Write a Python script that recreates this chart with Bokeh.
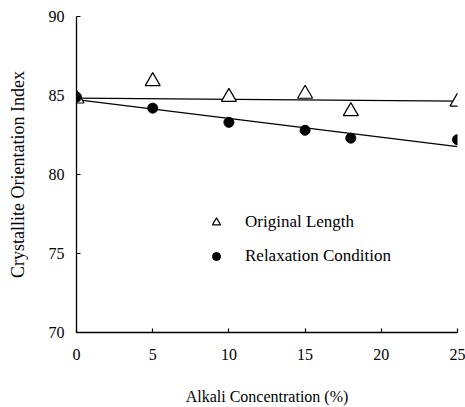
from bokeh.plotting import figure
from bokeh.models import Range1d, Legend, LegendItem, FixedTicker
from bokeh.embed import file_html
from bokeh.resources import INLINE

# Data
alkali = [0, 5, 10, 15, 18, 25]
original_length = [84.8, 85.9, 84.9, 85.1, 84.0, 84.6]
relaxation = [84.9, 84.2, 83.3, 82.8, 82.3, 82.2]

trend_x = [0, 25]
trend_original = [84.84, 84.64]
trend_relax = [84.74, 81.77]

x_ticks = [0, 5, 10, 15, 20, 25]
y_ticks = [70, 75, 80, 85, 90]

FONT = "Liberation Serif"

p = figure(width=465, height=407, output_backend="svg", toolbar_location=None,
           x_range=Range1d(0, 25), y_range=Range1d(70, 90),
           min_border_left=76, min_border_right=8, min_border_top=16, min_border_bottom=71)
p.outline_line_color = None
p.grid.visible = False
p.background_fill_color = "white"
p.border_fill_color = "white"

p.line(trend_x, trend_original, line_color="black", line_width=1.3)
p.line(trend_x, trend_relax, line_color="black", line_width=1.3)

r1 = p.scatter(alkali, original_length, marker="triangle", size=15,
               fill_color="white", line_color="black", line_width=1.2)
r2 = p.scatter(alkali, relaxation, marker="circle", size=10,
               fill_color="black", line_color="black")

for ax in (p.xaxis[0], p.yaxis[0]):
    ax.major_tick_in = 4
    ax.major_tick_out = 0
    ax.minor_tick_line_color = None
    ax.axis_line_color = "black"
    ax.axis_line_width = 1.3
    ax.major_tick_line_width = 1.2
    ax.major_label_text_font = FONT
    ax.major_label_text_font_size = "16px"
    ax.major_label_text_color = "black"
    ax.axis_label_text_font = FONT
    ax.axis_label_text_font_style = "normal"
    ax.axis_label_text_color = "black"

p.xaxis.ticker = FixedTicker(ticks=x_ticks)
p.yaxis.ticker = FixedTicker(ticks=y_ticks)
p.xaxis.major_label_standoff = 16
p.yaxis.major_label_standoff = 12
p.xaxis.axis_label = "Alkali Concentration (%)"
p.yaxis.axis_label = "Crystallite Orientation Index"
p.xaxis.axis_label_text_font_size = "16px"
p.yaxis.axis_label_text_font_size = "18px"
p.xaxis.axis_label_standoff = 25
p.yaxis.axis_label_standoff = 18

legend = Legend(items=[LegendItem(label="Original Length", renderers=[r1]),
                       LegendItem(label="Relaxation Condition", renderers=[r2])],
                location=(130, 66), margin=0, padding=0, spacing=14,
                glyph_width=20, glyph_height=20, label_height=20, label_standoff=19,
                border_line_color=None, background_fill_alpha=0,
                label_text_font=FONT, label_text_font_size="17px", label_text_color="black")
p.add_layout(legend)

open("out.html", "w").write(file_html(p, INLINE))
